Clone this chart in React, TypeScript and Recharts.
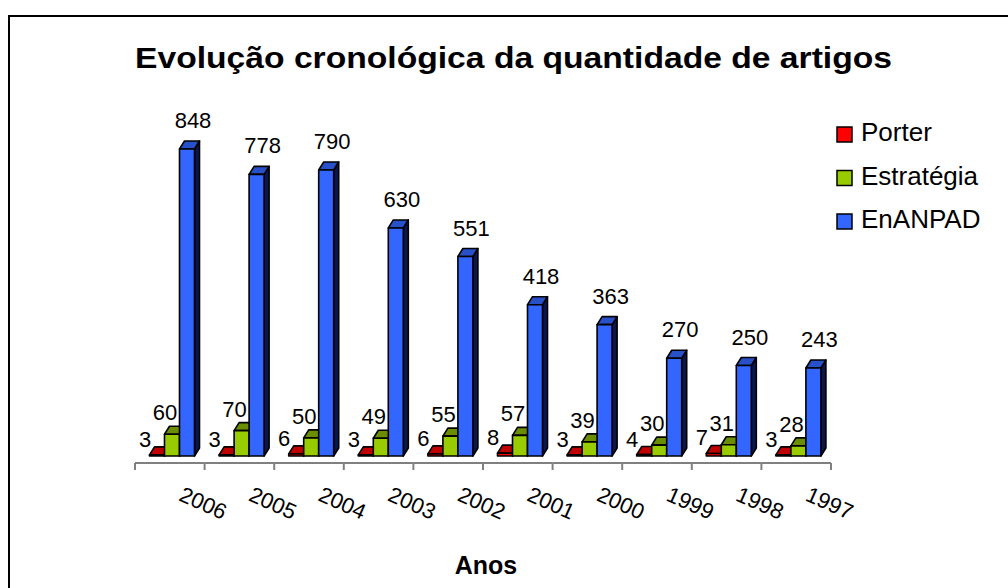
import React from 'react';
import { BarChart, Bar, XAxis, YAxis, Legend, LabelList } from 'recharts';

// values
const years = ['2006', '2005', '2004', '2003', '2002', '2001', '2000', '1999', '1998', '1997'];
const porter = [3, 3, 6, 3, 6, 8, 3, 4, 7, 3];
const estrategia = [60, 70, 50, 49, 55, 57, 39, 30, 31, 28];
const enanpad = [848, 778, 790, 630, 551, 418, 363, 270, 250, 243];

const data = years.map((ano, i) => ({
  ano,
  porter: porter[i],
  estrategia: estrategia[i],
  enanpad: enanpad[i],
}));

const W = 1008;
const H = 588;
const M = { top: 94, left: 135, right: 177, bottom: 0 };
const AXIS_H = 132;
const BAND = (W - M.left - M.right) / years.length;
const DEPTH_X = 5;
const DEPTH_Y = 8;
const SHIFT = 2.5;
const FONT = '"Liberation Sans", Arial, sans-serif';

const series = [
  { key: 'porter', name: 'Porter', front: '#ff0000', top: '#c00000', side: '#400000', dx: -12, dy: -8 },
  { key: 'estrategia', name: 'Estratégia', front: '#99cc00', top: '#6b8e00', side: '#243000', dx: -7, dy: -14 },
  { key: 'enanpad', name: 'EnANPAD', front: '#3366ff', top: '#2850c8', side: '#0a1650', dx: 6, dy: -21 },
];

type S = (typeof series)[number];

const Bar3D = ({ x, y, width, height, s }: any) => {
  const x0 = x + SHIFT;
  const w = width;
  const h = Math.max(height, 0.5);
  return (
    <g stroke="#000" strokeWidth={1.6} strokeLinejoin="round">
      <polygon
        points={`${x0 + w},${y} ${x0 + w + DEPTH_X},${y - DEPTH_Y} ${x0 + w + DEPTH_X},${y + h - DEPTH_Y} ${x0 + w},${y + h}`}
        fill={s.side}
      />
      <polygon
        points={`${x0},${y} ${x0 + DEPTH_X},${y - DEPTH_Y} ${x0 + w + DEPTH_X},${y - DEPTH_Y} ${x0 + w},${y}`}
        fill={s.top}
      />
      <rect x={x0} y={y} width={w} height={h} fill={s.front} />
    </g>
  );
};

const makeLabel = (s: S) => (p: any) => (
  <text
    x={p.x + p.width / 2 + SHIFT + s.dx}
    y={p.y + s.dy}
    textAnchor="middle"
    fontSize={22}
    fontFamily={FONT}
    fill="#000"
  >
    {p.value}
  </text>
);

const YearTick = ({ x, y, payload, index }: any) => {
  const half = BAND / 2;
  const ay = y + 7;
  const tx = x + 8;
  const ty = y + 44;
  return (
    <g>
      <line x1={x - half} x2={x + half} y1={ay} y2={ay} stroke="#808080" strokeWidth={2} />
      <line x1={x - half} x2={x - half} y1={ay} y2={ay + 7} stroke="#808080" strokeWidth={2} />
      {index === years.length - 1 && (
        <line x1={x + half} x2={x + half} y1={ay} y2={ay + 7} stroke="#808080" strokeWidth={2} />
      )}
      <text x={tx} y={ty} transform={`rotate(24 ${tx} ${ty})`} fontSize={22} fontFamily={FONT} fill="#000">
        {payload.value}
      </text>
    </g>
  );
};

const renderLegend = () => (
  <svg width={170} height={140} style={{ display: 'block' }}>
    {series.map((s, i) => (
      <g key={s.key} transform={`translate(0, ${i * 43.5})`}>
        <rect x={3} y={10} width={15} height={15} fill={s.front} stroke="#000" strokeWidth={1.5} />
        <text x={27} y={24} fontSize={26} fontFamily={FONT} fill="#000">
          {s.name}
        </text>
      </g>
    ))}
  </svg>
);

export default function App() {
  return (
    <div
      style={{
        position: 'absolute',
        left: 0,
        top: 0,
        width: W,
        height: H,
        overflow: 'hidden',
        background: '#fff',
        fontFamily: FONT,
      }}
    >
      <div
        style={{
          position: 'absolute',
          left: 8,
          top: 15,
          width: 1100,
          height: 700,
          borderLeft: '2px solid #000',
          borderTop: '2px solid #000',
        }}
      />
      <div style={{ position: 'absolute', left: 0, top: 0 }}>
        <BarChart width={W} height={H} data={data} margin={M} barSize={15} barGap={0}>
          <XAxis
            dataKey="ano"
            height={AXIS_H}
            axisLine={false}
            tickLine={false}
            tickSize={0}
            tickMargin={0}
            interval={0}
            tick={<YearTick />}
          />
          <YAxis hide domain={[0, 1000]} />
          <Legend
            layout="horizontal"
            verticalAlign="middle"
            align="center"
            content={renderLegend}
            wrapperStyle={{ position: 'absolute', left: 834, top: 117, width: 170 }}
          />
          {series.map((s) => (
            <Bar
              key={s.key}
              dataKey={s.key}
              name={s.name}
              fill={s.front}
              isAnimationActive={false}
              shape={(p: any) => <Bar3D {...p} s={s} />}
            >
              <LabelList dataKey={s.key} content={makeLabel(s)} />
            </Bar>
          ))}
        </BarChart>
      </div>
      <svg width={W} height={H} style={{ position: 'absolute', left: 0, top: 0, pointerEvents: 'none' }}>
        <text
          x={135}
          y={68}
          fontSize={30}
          fontWeight="bold"
          fontFamily={FONT}
          textLength={757}
          lengthAdjust="spacingAndGlyphs"
        >
          Evolução cronológica da quantidade de artigos
        </text>
        <text x={486} y={574} fontSize={25} fontWeight="bold" fontFamily={FONT} textAnchor="middle">
          Anos
        </text>
      </svg>
    </div>
  );
}
